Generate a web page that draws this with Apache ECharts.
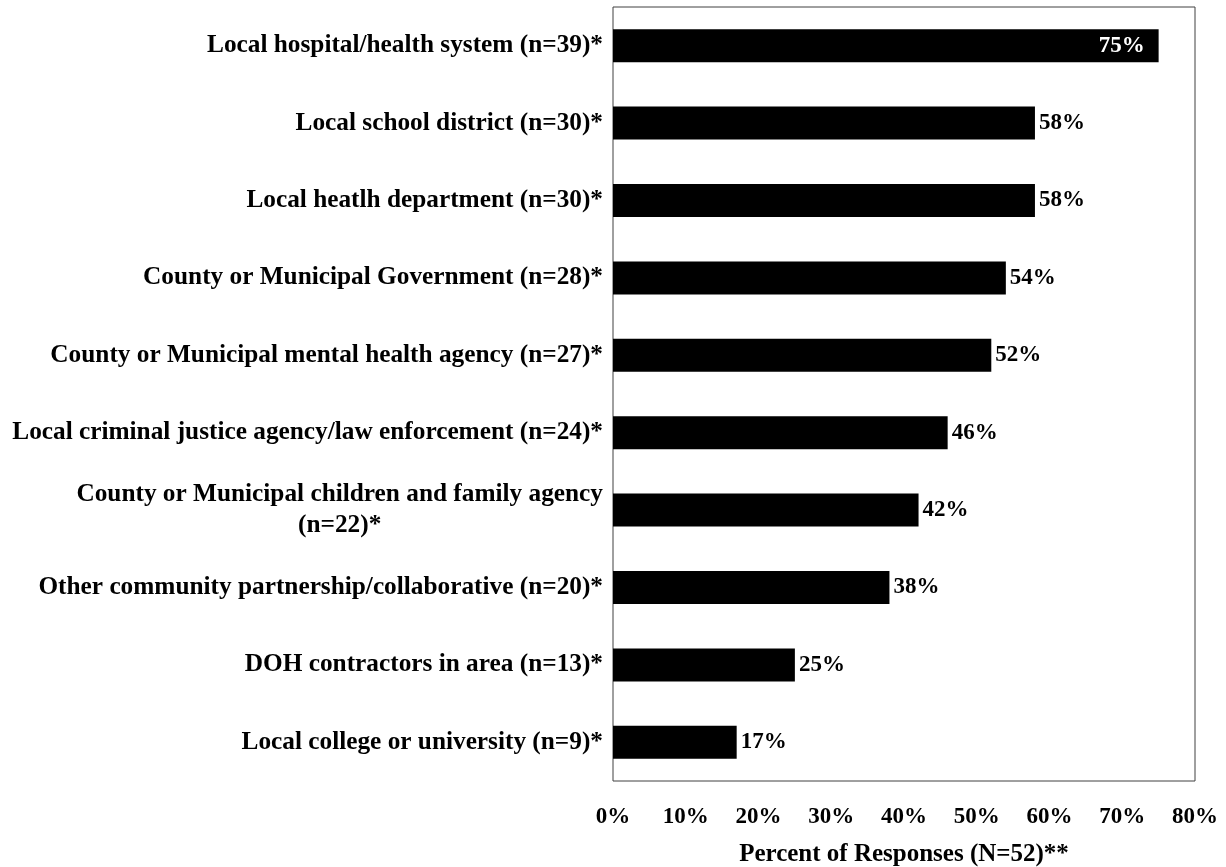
<!DOCTYPE html>
<html>
<head>
<meta charset="utf-8">
<script src="https://cdn.jsdelivr.net/npm/echarts@6/dist/echarts.min.js"></script>
<style>
  html, body { margin: 0; padding: 0; background: #fff; }
  #chart { width: 1226px; height: 867px; }
</style>
</head>
<body>
<div id="chart"></div>
<script>
// Partner organisations, listed top to bottom
const categories = [
  'Local hospital/health system (n=39)*',
  'Local school district (n=30)*',
  'Local heatlh department (n=30)*',
  'County or Municipal Government (n=28)*',
  'County or Municipal mental health agency (n=27)*',
  'Local criminal justice agency/law enforcement (n=24)*',
  'County or Municipal children and family agency\n(n=22)*',
  'Other community partnership/collaborative (n=20)*',
  'DOH contractors in area (n=13)*',
  'Local college or university (n=9)*'
];
// Percent of responses per organisation
const percents = [75, 58, 58, 54, 52, 46, 42, 38, 25, 17];
// Values whose label sits inside the bar
const insideLabelIndexes = [0];

const FONT = '"Liberation Serif", "Times New Roman", serif';
const CAT_SIZE = 25.3;
const NUM_SIZE = 23;
const NAME_SIZE = 25;

const chart = echarts.init(document.getElementById('chart'));
chart.setOption({
  animation: false,
  backgroundColor: '#fff',
  grid: {
    left: 613, right: 31, top: 7, bottom: 86,
    outerBoundsMode: 'none', containLabel: false,
    show: true, borderColor: '#404040', borderWidth: 1
  },
  xAxis: {
    type: 'value', min: 0, max: 80, interval: 10,
    axisLine: { show: false }, axisTick: { show: false }, splitLine: { show: false },
    axisLabel: {
      formatter: '{value}%', margin: 25,
      color: '#000', fontFamily: FONT, fontWeight: 'bold', fontSize: NUM_SIZE
    },
    name: 'Percent of Responses (N=52)**', nameLocation: 'middle', nameGap: 61,
    nameTextStyle: { color: '#000', fontFamily: FONT, fontWeight: 'bold', fontSize: NAME_SIZE }
  },
  yAxis: {
    type: 'category', data: categories, inverse: true,
    axisLine: { show: false }, axisTick: { show: false },
    axisLabel: {
      margin: 10, color: '#000', fontFamily: FONT, fontWeight: 'bold', fontSize: CAT_SIZE,
      lineHeight: 31,
      formatter: v => '{c|' + v.split('\n').join('}\n{c|') + '}',
      rich: { c: { align: 'center', color: '#000', fontFamily: FONT, fontWeight: 'bold', fontSize: CAT_SIZE, lineHeight: 31 } }
    }
  },
  series: [{
    type: 'bar',
    barWidth: 33,
    itemStyle: { color: '#000' },
    data: percents.map((v, i) => ({
      value: v,
      label: insideLabelIndexes.includes(i)
        ? { position: 'insideRight', color: '#fff', distance: 14 }
        : { position: 'right', color: '#000', distance: 4 }
    })),
    label: {
      show: true, formatter: '{c}%',
      fontFamily: FONT, fontWeight: 'bold', fontSize: NUM_SIZE
    }
  }]
});
</script>
</body>
</html>
